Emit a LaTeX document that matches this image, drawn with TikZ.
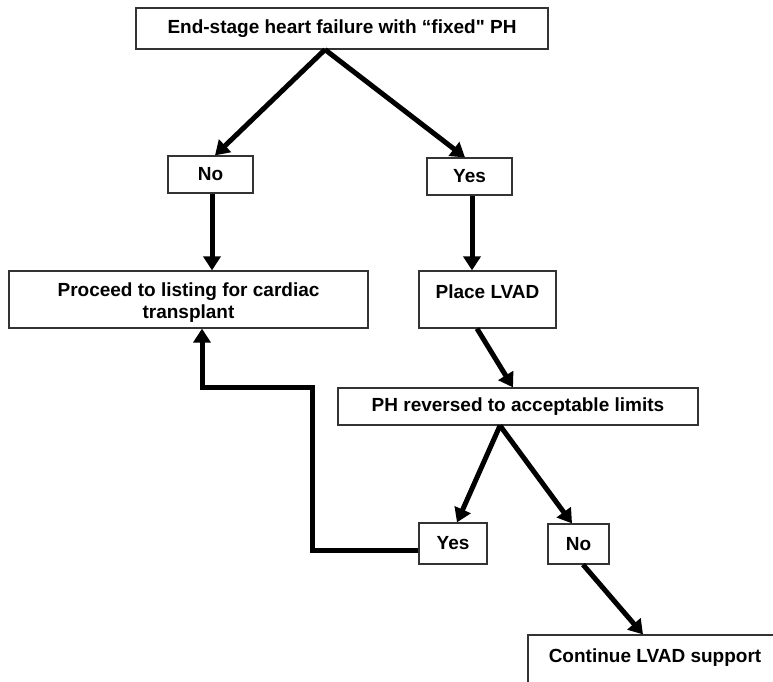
\documentclass[tikz,border=0pt]{standalone}
\usepackage{fontspec}
\setmainfont{Liberation Sans}[Ligatures=TeXOff]
\usetikzlibrary{arrows.meta}
\tikzset{
  box/.style={draw=black!80, line width=1.2pt, rectangle, inner sep=0pt,
    font=\fontsize{19}{21.5}\selectfont\bfseries, align=center, text=black},
  conn/.style={line width=5pt, -{Triangle[width=17pt,length=14pt]}, black}
}
\newcommand{\hiline}{\rule{0pt}{20pt}}
\begin{document}
\begin{tikzpicture}[x=1pt,y=-1pt]
\useasboundingbox (0,0) rectangle (773,681);
\clip (0,0) rectangle (773,681);
\node[box, minimum width=412pt, minimum height=41pt] (top) at (342,28.5) {End-stage heart failure with “fixed" PH};
\node[box, minimum width=85pt, minimum height=37pt] (no1) at (210.5,174.5) {No};
\node[box, minimum width=85pt, minimum height=37pt] (yes1) at (469.5,176.5) {Yes};
\node[box, minimum width=359pt, minimum height=57pt] (proceed) at (188.5,299.5) {\hiline Proceed to listing for cardiac\\transplant};
\node[box, minimum width=137pt, minimum height=57pt] (place) at (487.5,299.5) {\hiline Place LVAD\\\mbox{}};
\node[box, minimum width=360pt, minimum height=37pt] (ph) at (518,406.5) {PH reversed to acceptable limits};
\node[box, minimum width=68pt, minimum height=41pt] (yes2) at (453,543.5) {Yes};
\node[box, minimum width=61pt, minimum height=40pt] (no2) at (578.5,544) {No};
\node[box, minimum width=254pt, minimum height=57pt] (cont) at (655,663.5) {\hiline Continue LVAD support\\\mbox{}};
\draw[conn] ([xshift=-17pt]top.south) -- ([xshift=4.5pt]no1.north);
\draw[conn] ([xshift=-17pt]top.south) -- ([xshift=-4.5pt]yes1.north);
\draw[conn] ([xshift=1.5pt]no1.south) -- ([xshift=1.5pt]no1.south |- proceed.north);
\draw[conn] ([xshift=2.5pt]yes1.south) -- ([xshift=2.5pt]yes1.south |- place.north);
\draw[conn] ([xshift=-10.5pt]place.south) -- ([xshift=-5pt]ph.north);
\draw[conn] ([xshift=-18pt]ph.south) -- ([xshift=4pt]yes2.north);
\draw[conn] ([xshift=-18pt]ph.south) -- ([xshift=-6.5pt]no2.north);
\draw[conn] ([xshift=4.5pt]no2.south) -- ([xshift=-12pt]cont.north);
\coordinate (bend) at (312,387);
\draw[conn, line join=miter] ([yshift=-6.5pt]yes2.west) -| (bend) -| ([xshift=13.5pt]proceed.south);
\end{tikzpicture}
\end{document}
